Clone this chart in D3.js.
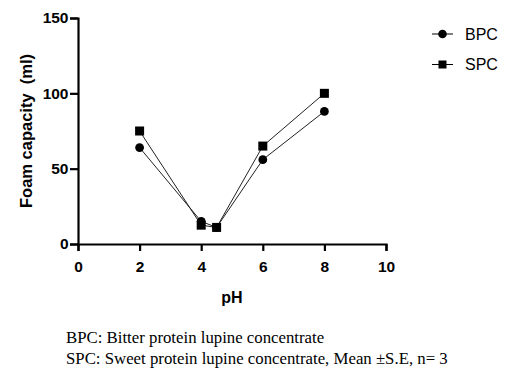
<!DOCTYPE html>
<html>
<head>
<meta charset="utf-8">
<script src="https://cdn.jsdelivr.net/npm/d3@7/dist/d3.min.js"></script>
<style>
  body { margin: 0; background: #fff; }
</style>
</head>
<body>
<script>
const phBPC = [2, 4, 4.5, 6, 8];
const valBPC = [64, 15, 11, 56, 88];
const phSPC = [2, 4, 4.5, 6, 8];
const valSPC = [75, 12.5, 11, 65, 100];
const xTicks = [0, 2, 4, 6, 8, 10];
const yTicks = [0, 50, 100, 150];
const captions = [
  'BPC: Bitter protein lupine concentrate',
  'SPC: Sweet protein lupine concentrate, Mean \u00b1S.E, n= 3'
];

const width = 531;
const height = 374;
const margins = { top: 18, bottom: 130, left: 78, right: 145 };

const x = d3.scaleLinear([0, 10], [margins.left, width - margins.right]);
const y = d3.scaleLinear([0, 150], [height - margins.bottom, margins.top]);

const svg = d3.select('body').append('svg')
  .attr('width', width)
  .attr('height', height)
  .style('font-family', 'Arial, "Liberation Sans", sans-serif');

// axes
const gx = svg.append('g')
  .attr('transform', `translate(0, ${y(0)})`)
  .call(d3.axisBottom(x).tickValues(xTicks).tickSize(7).tickPadding(10));
const gy = svg.append('g')
  .attr('transform', `translate(${x(0)}, 0)`)
  .call(d3.axisLeft(y).tickValues(yTicks).tickSize(8).tickPadding(1.5));

[gx, gy].forEach(g => {
  g.select('.domain').attr('stroke', '#000').attr('stroke-width', 2.2);
  g.selectAll('.tick line').attr('stroke', '#000').attr('stroke-width', 2.2);
  g.selectAll('.tick text')
    .attr('fill', '#000')
    .style('font-size', '15.5px')
    .style('font-weight', 'bold')
    .style('font-family', 'Arial, "Liberation Sans", sans-serif');
});

// axis titles
svg.append('text')
  .attr('x', 232)
  .attr('y', 303)
  .attr('text-anchor', 'middle')
  .style('font-size', '16px')
  .style('font-weight', 'bold')
  .text('pH');

svg.append('text')
  .attr('transform', `translate(32, ${y(75)}) rotate(-90)`)
  .attr('text-anchor', 'middle')
  .style('font-size', '16.5px')
  .style('font-weight', 'bold')
  .style('white-space', 'pre')
  .attr('xml:space', 'preserve')
  .text('Foam capacity  (ml)');

const line = d3.line().x(d => x(d[0])).y(d => y(d[1]));
const bpc = phBPC.map((p, i) => [p, valBPC[i]]);
const spc = phSPC.map((p, i) => [p, valSPC[i]]);

svg.append('path')
  .attr('d', line(bpc))
  .attr('fill', 'none')
  .attr('stroke', '#222')
  .attr('stroke-width', 1);
svg.append('path')
  .attr('d', line(spc))
  .attr('fill', 'none')
  .attr('stroke', '#222')
  .attr('stroke-width', 1);

svg.append('g').selectAll('circle')
  .data(bpc)
  .join('circle')
  .attr('cx', d => x(d[0]))
  .attr('cy', d => y(d[1]))
  .attr('r', 4.4)
  .attr('fill', '#000');

svg.append('g').selectAll('rect')
  .data(spc)
  .join('rect')
  .attr('x', d => x(d[0]) - 4.5)
  .attr('y', d => y(d[1]) - 4.5)
  .attr('width', 9)
  .attr('height', 9)
  .attr('fill', '#000');

// legend
const legend = svg.append('g');
const legendItems = [
  { name: 'BPC', shape: 'circle', y: 34 },
  { name: 'SPC', shape: 'square', y: 64.5 }
];
legendItems.forEach(item => {
  legend.append('line')
    .attr('x1', 432).attr('x2', 453)
    .attr('y1', item.y).attr('y2', item.y)
    .attr('stroke', '#000').attr('stroke-width', 1);
  if (item.shape === 'circle') {
    legend.append('circle')
      .attr('cx', 442.5).attr('cy', item.y).attr('r', 4.3).attr('fill', '#000');
  } else {
    legend.append('rect')
      .attr('x', 438.5).attr('y', item.y - 4).attr('width', 8).attr('height', 8).attr('fill', '#000');
  }
  legend.append('text')
    .attr('x', 465).attr('y', item.y)
    .attr('dy', '0.36em')
    .style('font-size', '16px')
    .text(item.name);
});

// caption
svg.append('g').selectAll('text')
  .data(captions)
  .join('text')
  .attr('x', 66)
  .attr('y', (d, i) => 343 + i * 20.5)
  .style('font-family', '"Liberation Serif", "Times New Roman", serif')
  .style('font-size', '16.8px')
  .text(d => d);
</script>
</body>
</html>
